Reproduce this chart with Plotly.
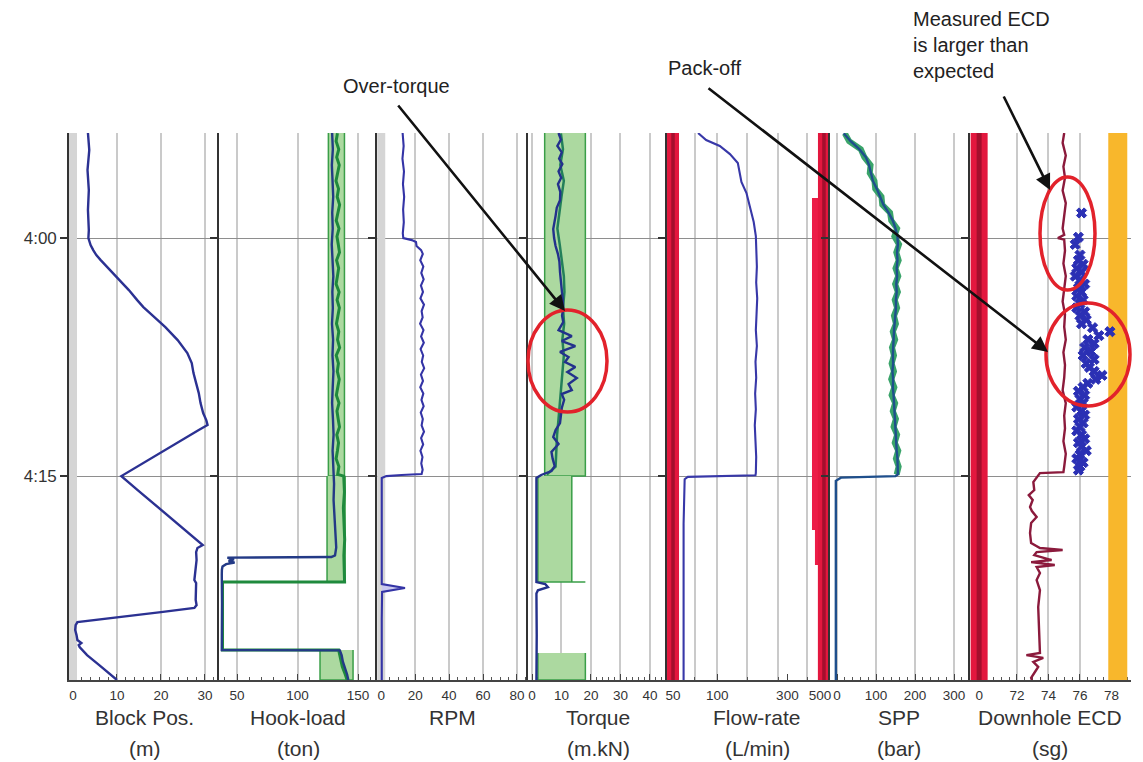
import plotly.graph_objects as go
from plotly.subplots import make_subplots

# ---------------- data (time = minutes after 4:00) ----------------
t_top, t_bottom = -6.62, 27.85
y_tickvals = [0, 15]
y_ticktext = ["4:00", "4:15"]

grid_t = [-6.6, -6.1, -5.6, -5.1, -4.6, -4.1, -3.6, -3.1, -2.6, -2.1, -1.6, -1.1, -0.6, -0.1,
          0.4, 0.9, 1.4, 1.9, 2.4, 2.9, 3.4, 3.9, 4.4, 4.9, 5.4, 5.9, 6.4, 6.9, 7.4, 7.9,
          8.4, 8.9, 9.4, 9.9, 10.4, 10.9, 11.4, 11.9, 12.4, 12.9, 13.4, 13.9, 14.4, 14.9]

# Block position (m)
block_t = [-6.62, -5.55, -4.28, -3.02, -1.76, -0.50, 0.00, 0.44, 0.76, 1.07, 1.39, 2.02, 2.65, 3.28,
           3.91, 4.35, 4.98, 5.61, 6.43, 7.25, 7.88, 8.51, 9.14, 9.77, 10.40, 11.03, 11.47, 11.78,
           12.10, 12.73, 13.36, 13.99, 14.62, 15.00, 15.88, 17.14, 18.40, 19.34, 19.53, 19.79,
           20.29, 20.92, 21.55, 21.74, 22.18, 22.81, 23.13, 23.31, 23.57, 23.82, 24.07, 24.20,
           24.39, 24.70, 25.02, 25.33, 25.52, 25.65, 25.77, 26.28, 26.90, 27.66, 27.85]
block_m = [3.4, 3.7, 3.3, 3.6, 3.4, 3.6, 3.5, 4.0, 4.6, 5.3, 6.3, 8.5, 10.7, 12.7, 14.6, 16.0, 18.5,
           21.0, 23.8, 26.0, 27.0, 27.4, 28.0, 28.6, 29.0, 29.6, 30.3, 30.6, 28.6, 24.8, 21.0,
           17.1, 13.3, 11.0, 14.7, 20.1, 25.5, 29.5, 28.3, 28.0, 28.1, 27.8, 27.6, 28.0, 28.0,
           27.9, 28.1, 27.6, 20.0, 12.0, 4.5, 1.0, 0.6, 0.5, 0.8, 1.0, 1.9, 1.3, 1.5, 3.2, 5.9,
           9.2, 10.0]
zero_ref = [0, 0]

# Hook-load (ton)
hook_blue_t = [-6.62, -5.6, -4.6, -3.6, -2.6, -1.6, -0.6, 0.4, 1.4, 2.4, 3.4, 4.4, 5.4, 6.4, 7.4,
               8.4, 9.4, 10.4, 11.4, 12.4, 13.4, 14.4, 15.0, 15.5, 16.5, 17.5, 18.5, 19.5, 20.0,
               20.10, 20.14, 20.25, 20.35, 20.45, 20.55, 20.70, 20.90, 21.20, 23.0, 25.0, 25.96,
               25.98, 26.3, 26.7, 27.1, 27.5, 27.85]
hook_blue = [128.6, 129.2, 128.4, 128.9, 129.5, 128.7, 129.1, 128.3, 129.0, 129.6, 128.8, 129.2,
             128.5, 129.4, 128.9, 129.7, 129.1, 128.6, 129.3, 129.8, 129.0, 129.5, 129.5, 130.2,
             129.8, 130.5, 131.5, 132.0, 131.0, 128.0, 42.0, 47.5, 43.0, 48.0, 41.0, 38.0, 37.5,
             37.4, 37.6, 37.4, 37.4, 135.0, 136.5, 137.5, 139.5, 141.0, 142.0]
hook_green_noise = [133.0, 131.9, 134.1, 132.4, 134.5, 133.1, 131.8, 133.9, 132.8, 134.8, 133.4,
                    132.0, 134.3, 132.6, 133.7, 134.7, 132.3, 134.0, 133.0, 131.9, 134.4, 132.7,
                    134.6, 133.3, 132.2, 134.1, 133.1, 134.8, 132.0, 133.8, 132.9, 134.5, 133.4,
                    132.1, 134.3, 132.6, 133.6, 134.7, 132.5, 133.9, 133.0, 131.9, 134.2, 133.2]
hook_green_tail_t = [15.0, 16.0, 17.0, 18.0, 19.0, 20.0, 21.0, 21.68, 21.68, 25.96, 25.96, 26.5,
                     27.0, 27.4, 27.85]
hook_green_tail = [138.2, 138.8, 137.9, 138.6, 139.0, 138.3, 138.7, 138.9, 38.0, 38.0, 134.0,
                   135.5, 137.0, 139.0, 141.0]
hook_env1_t, hook_env1_lo, hook_env1_hi = [-6.62, 15.0], [125.5, 125.5], [138.8, 138.8]
hook_env2_t, hook_env2_lo, hook_env2_hi = [15.0, 21.68, 21.68], [124.4, 124.4, 42.0], [139.3, 139.3, 139.3]
hook_env3_t, hook_env3_lo, hook_env3_hi = [25.96, 27.85], [118.6, 118.6], [145.9, 145.9]

# RPM
rpm_t = [-6.62, -5.8, -5.0, -4.2, -3.4, -2.6, -1.8, -1.0, -0.3, 0.0, 0.13, 0.25, 0.5, 0.76, 1.0,
         1.4, 1.8, 2.2, 2.6, 3.0, 3.4, 3.8, 4.2, 4.6, 5.0, 5.4, 5.8, 6.2, 6.6, 7.0, 7.4, 7.8, 8.2,
         8.6, 9.0, 9.4, 9.8, 10.2, 10.6, 11.0, 11.4, 11.8, 12.2, 12.6, 13.0, 13.4, 13.8, 14.2,
         14.6, 14.87, 14.93, 15.0, 15.12, 18.0, 21.8, 22.05, 22.3, 24.0, 27.85]
rpm_v = [12.6, 13.2, 12.5, 13.4, 12.8, 13.5, 12.9, 13.3, 12.7, 13.0, 18.0, 20.5, 20.8, 23.5, 24.5,
         23.0, 24.8, 23.6, 25.0, 23.4, 24.6, 23.1, 25.2, 23.8, 24.4, 22.9, 24.9, 23.5, 25.1, 23.2,
         24.7, 23.9, 25.3, 23.4, 24.6, 23.0, 24.8, 23.7, 25.0, 23.3, 24.5, 23.8, 25.2, 23.5, 24.7,
         23.1, 24.3, 23.6, 24.4, 23.8, 12.0, 3.0, 0.3, 0.4, 0.3, 14.0, 0.5, 0.3, 0.3]
rpm_spike_t = [21.8, 22.05, 22.3]
rpm_spike_v = [0.3, 14.0, 0.5]

# Torque (m.kN)
tq_t = [-6.62, -6.2, -5.8, -5.4, -5.0, -4.66, -4.2, -3.8, -3.4, -2.9, -2.39, -1.9, -1.4, -0.9,
        -0.57, 0.0, 0.5, 1.01, 1.5, 2.14, 2.7, 3.28, 3.8, 4.41, 4.9, 5.29, 5.80, 6.18, 6.49, 6.81,
        7.18, 7.50, 7.81, 8.13, 8.44, 8.82, 9.20, 9.58, 9.83, 10.2, 10.71, 11.2, 11.66, 12.1,
        12.54, 12.98, 13.48, 13.9, 14.37, 14.68, 14.93, 15.12, 18.0, 21.68, 21.8, 22.0, 22.2,
        22.4, 25.0, 27.85]
tq_v = [9.0, 9.8, 8.6, 10.1, 9.2, 10.3, 9.0, 9.9, 8.8, 9.6, 9.5, 8.4, 8.0, 7.6, 7.2, 7.5, 8.0,
        8.8, 9.3, 9.5, 9.9, 10.1, 10.4, 10.6, 10.2, 10.6, 9.0, 13.5, 10.1, 14.7, 9.5, 12.4, 11.2,
        14.7, 12.0, 15.2, 12.4, 13.5, 10.1, 10.9, 10.1, 9.8, 9.5, 8.0, 7.2, 9.0, 6.6, 7.0, 7.7,
        6.6, 3.1, 1.5, 1.6, 1.5, 4.5, 5.4, 2.0, 1.5, 1.6, 1.5]
tq_green_t = [-6.6, -5.6, -4.6, -3.6, -2.6, -1.6, -0.6, 0.4, 1.4, 2.4, 3.4, 4.4, 5.4, 6.4, 7.4,
              8.4, 9.4, 10.4, 11.4, 12.4, 13.4, 14.4, 14.9]
tq_green = [9.8, 10.5, 9.6, 10.8, 10.0, 9.2, 8.6, 9.4, 10.2, 10.8, 11.0, 10.5, 10.9, 10.3, 10.8,
            10.4, 10.0, 9.6, 9.0, 8.5, 8.2, 8.0, 5.0]
tq_env1_t, tq_env1_lo, tq_env1_hi = [-6.62, 15.0], [4.3, 4.3], [18.1, 18.1]
tq_env2_t, tq_env2_lo, tq_env2_hi = [15.0, 21.68, 21.68], [2.0, 2.0, 2.0], [13.5, 13.5, 18.1]
tq_env3_t, tq_env3_lo, tq_env3_hi = [26.15, 27.85], [2.0, 2.0], [18.1, 18.1]

# Flow-rate (L/min)
flow_t = [-6.62, -6.18, -5.80, -5.29, -4.73, -4.16, -3.53, -2.84, -1.95, -1.01, -0.13, 0.8, 1.8,
          2.8, 3.8, 4.8, 5.8, 6.8, 7.8, 8.8, 9.8, 10.8, 11.8, 12.8, 13.8, 14.8, 14.95, 15.05,
          15.2, 18.0, 27.85]
flow_v = [74, 84, 104, 122, 138, 142, 146, 158, 167, 177, 183, 185, 186, 184, 187, 185, 183, 186,
          182, 184, 181, 183, 180, 182, 184, 183, 182, 63, 60, 59, 59]
flow_limits = [50, 532]
pack_t = [-2.52, 27.85, 27.85, 20.60, 20.60, 18.40, 18.40, -2.52]
pack_q = [532, 532, 484, 484, 462, 462, 441, 441]

# SPP (bar)
spp_blue = [17, 35, 57, 74, 82, 88, 92, 102, 110, 119, 132, 143, 150, 155, 156, 154, 155, 153,
            154, 152, 153, 151, 151, 149, 148, 146, 145, 144, 143, 144, 142, 144, 143, 145, 146,
            147, 148, 149, 151, 152, 153, 155, 155, 156]
spp_tail_t = [15.0, 15.1, 15.3, 27.85]
spp_tail = [150, 10, -3, -3]
spp_green = [20, 31, 61, 70, 86, 84, 96, 98, 114, 116, 136, 139, 154, 147, 159, 152, 158, 150,
             157, 149, 156, 148, 154, 146, 151, 143, 149, 141, 146, 140, 146, 139, 147, 140, 149,
             143, 151, 145, 154, 148, 157, 151, 158, 153]

# Downhole ECD (sg)
ecd_t = [-6.62, -6.0, -5.2, -4.5, -3.8, -3.0, -2.2, -1.4, -0.6, -0.2, 0.0, 0.1, 0.8, 1.6, 2.4, 3.2,
         4.0, 4.8, 5.6, 6.4, 7.2, 8.0, 8.8, 9.6, 10.4, 11.2, 12.0, 12.8, 13.6, 14.4, 14.75, 14.81,
         15.37, 15.88, 16.2, 16.5, 16.95, 17.2, 17.58, 17.96, 18.59, 19.22, 19.53, 19.66, 19.79,
         19.98, 20.29, 20.42, 20.60, 20.73, 21.11, 21.55, 22.18, 23.25, 24.3, 25.33, 26.15, 26.28,
         26.46, 26.71, 27.03, 27.41, 27.72, 27.85]
ecd_sg = [75.0, 74.9, 75.1, 74.95, 75.05, 74.9, 75.1, 75.0, 74.9, 75.0, 74.6, 75.0, 75.05, 74.95,
          75.1, 75.0, 74.9, 75.05, 75.0, 75.1, 74.95, 75.05, 75.0, 74.9, 75.1, 75.0, 75.05, 74.95,
          75.1, 75.0, 74.95, 73.46, 73.04, 73.1, 72.75, 73.0, 72.83, 72.95, 73.25, 72.9, 72.83,
          72.9, 73.46, 74.9, 73.25, 73.1, 74.2, 72.9, 74.4, 73.25, 73.46, 73.25, 73.46, 73.35,
          73.4, 73.46, 73.46, 72.6, 73.67, 73.04, 73.35, 73.1, 72.9, 72.95]
meas_t = [-1.58, -0.05, 0.40, 1.07, 1.40, 1.65, 1.90, 2.15, 2.40, 2.65, 2.90, 3.15, 3.40, 3.65,
          3.90, 4.15, 4.40, 4.65, 4.90, 5.15, 5.40, 5.65, 5.90, 6.15, 6.40, 6.65, 6.90, 7.15, 7.40,
          7.65, 7.90, 8.15, 8.40, 8.65, 8.90, 9.15, 9.40, 9.65, 9.90, 10.15, 10.40, 10.65, 10.90,
          11.15, 11.40, 11.65, 11.90, 12.15, 12.40, 12.65, 12.90, 13.15, 13.40, 13.65, 13.90,
          14.15, 14.40, 14.62]
meas_sg = [76.1, 75.9, 75.7, 76.0, 75.9, 76.2, 75.8, 76.1, 75.7, 76.0, 76.3, 75.9, 76.1, 75.8,
           76.2, 76.0, 75.8, 76.3, 76.0, 76.4, 76.1, 76.8, 77.9, 77.2, 76.5, 76.9, 76.3, 76.7,
           76.2, 76.9, 76.4, 76.6, 76.9, 77.4, 77.0, 76.5, 76.2, 75.9, 76.3, 76.0, 76.2, 75.8,
           76.1, 76.3, 75.9, 76.2, 76.0, 75.8, 76.1, 76.3, 75.9, 76.1, 76.4, 76.0, 75.8, 76.2,
           76.0, 75.9]
ecd_flag = 69.6
ecd_limit = 78.4

# axis labels
titles = ["Block Pos.", "Hook-load", "RPM", "Torque", "Flow-rate", "SPP", "Downhole ECD"]
units = ["(m)", "(ton)", "", "(m.kN)", "(L/min)", "(bar)", "(sg)"]

# ---------------- style ----------------
FONT = "Liberation Sans, Arial, sans-serif"
BLUE = "#2b3192"
GREEN_FILL = "#acd9a0"
GREEN_EDGE = "#3a9e48"
GREEN_DARK = "#1f8a3d"
RED = "#e3173e"
RED_DARK = "#a40f2d"

W, H = 1143, 762
ML, MR, MT, MB = 69, 12, 133, 82
col_px = [150, 158, 151, 139, 163, 140, 161]

fig = make_subplots(rows=1, cols=7, shared_yaxes=True, horizontal_spacing=0,
                    column_widths=col_px)


def line(x, y, col, color, width, **kw):
    fig.add_trace(go.Scatter(x=x, y=y, mode="lines", line=dict(color=color, width=width),
                             hoverinfo="skip", **kw), row=1, col=col)


def band(t, lo, hi, col, fill=GREEN_FILL, edge=GREEN_EDGE):
    fig.add_trace(go.Scatter(x=list(hi) + list(lo)[::-1], y=list(t) + list(t)[::-1],
                             mode="lines", fill="toself", fillcolor=fill,
                             line=dict(color=edge, width=1.5), hoverinfo="skip"), row=1, col=col)


span = [t_top, t_bottom]

# 1 Block position
line(zero_ref, span, 1, "#d5d5d5", 8)
line(block_m, block_t, 1, BLUE, 2.4)

# 2 Hook-load
band(hook_env1_t, hook_env1_lo, hook_env1_hi, 2)
band(hook_env2_t, hook_env2_lo, hook_env2_hi, 2)
band(hook_env3_t, hook_env3_lo, hook_env3_hi, 2)
line(hook_green_noise + hook_green_tail, grid_t + hook_green_tail_t, 2, GREEN_DARK, 3)
line(hook_blue, hook_blue_t, 2, "#233a86", 2.4)

# 3 RPM
line(zero_ref, span, 3, "#d5d5d5", 8)
fig.add_trace(go.Scatter(x=rpm_spike_v, y=rpm_spike_t, mode="lines", fill="toself",
                         fillcolor="#c9c8ee", line=dict(width=0), hoverinfo="skip"), row=1, col=3)
line(rpm_v, rpm_t, 3, "#3434a6", 2.1)

# 4 Torque
band(tq_env1_t, tq_env1_lo, tq_env1_hi, 4)
band(tq_env2_t, tq_env2_lo, tq_env2_hi, 4)
band(tq_env3_t, tq_env3_lo, tq_env3_hi, 4)
line(tq_green, tq_green_t, 4, "#23805a", 2.5)
line(tq_v, tq_t, 4, "#23318c", 2.4)

# 5 Flow-rate (log axis)
fig.add_trace(go.Scatter(x=pack_q, y=pack_t, mode="lines", fill="toself", fillcolor="#ec1c47",
                         line=dict(width=0), hoverinfo="skip"), row=1, col=5)
for q in flow_limits:
    line([q, q], span, 5, RED, 12)
    line([q, q], span, 5, RED_DARK, 3.5)
line(flow_v, flow_t, 5, "#3838a8", 2.1)

# 6 SPP
line(spp_green, grid_t, 6, "#3aa46a", 6)
line(spp_blue + spp_tail, grid_t + spp_tail_t, 6, "#1f4f8c", 2.4)

# 7 Downhole ECD
line([ecd_flag, ecd_flag], span, 7, RED, 17)
line([ecd_flag, ecd_flag], span, 7, RED_DARK, 5)
line([ecd_limit, ecd_limit], span, 7, "#f8b72c", 19)
line(ecd_sg, ecd_t, 7, "#8b1a3c", 2.4)
fig.add_trace(go.Scatter(x=meas_sg, y=meas_t, mode="markers",
                         marker=dict(symbol="x", size=9, color="#2b30b4",
                                     line=dict(width=1, color="#2b30b4")),
                         hoverinfo="skip"), row=1, col=7)

# ---------------- axes ----------------
xcfg = [
    dict(range=[-0.91, 33.2], tickvals=[0, 10, 20, 30], minor=dict(dtick=2)),
    dict(range=[35.1, 165.7], tickvals=[50, 100, 150], minor=dict(dtick=10)),
    dict(range=[-2.5, 86.5], tickvals=[0, 20, 40, 60, 80], minor=dict(dtick=5)),
    dict(range=[-1.36, 45.8], tickvals=[0, 10, 20, 30, 40], minor=dict(dtick=2)),
    dict(type="log", range=[1.658, 2.767], tickvals=[50, 100, 300, 500], showgrid=False,
         minor=dict(tickvals=[70, 100, 160, 260, 410], showgrid=True,
                    gridcolor="#cacaca", gridwidth=1.5)),
    dict(range=[-18, 341], tickvals=[0, 100, 200, 300], minor=dict(dtick=20)),
    dict(range=[69.02, 79.24], tickvals=[ecd_flag, 72, 74, 76, 78],
         ticktext=["0", "72", "74", "76", "78"], minor=dict(dtick=0.5)),
]
for i, cfg in enumerate(xcfg):
    minor = dict(ticks="inside", ticklen=3, tickcolor="#555", tickwidth=1)
    minor.update(cfg.pop("minor"))
    base = dict(showline=True, linecolor="#444", linewidth=1.5, ticks="inside", ticklen=6,
                tickwidth=1.3, tickcolor="#444", showgrid=True, gridcolor="#cacaca",
                gridwidth=1.5, zeroline=False, layer="below traces", ticklabelstandoff=2,
                tickfont=dict(family=FONT, size=13.5, color="#333"), minor=minor)
    base.update(cfg)
    fig.update_xaxes(row=1, col=i + 1, **base)

fig.update_yaxes(range=[t_bottom, t_top], tickvals=y_tickvals, ticktext=y_ticktext,
                 showgrid=True, gridcolor="#8e8e8e", gridwidth=1.2, zeroline=False,
                 showline=True, linecolor="#333", linewidth=1.6, ticks="outside", ticklen=7,
                 tickwidth=1.6, tickcolor="#333", layer="below traces",
                 tickfont=dict(family=FONT, size=17, color="#333"))

# ---------------- annotations ----------------
PW, PH = W - ML - MR, H - MT - MB


def px(x):
    return (x - ML) / PW


def py(y):
    return (H - MB - y) / PH


TXT = dict(xref="paper", yref="paper", showarrow=False, xanchor="center", yanchor="middle")
ann = []
title_cx = [144, 298, 452, 598, 757, 899, 1050]
for cx, ttl, un in zip(title_cx, titles, units):
    ann.append(dict(x=px(cx), y=py(717), text=ttl,
                    font=dict(family=FONT, size=21, color="#333"), **TXT))
    if un:
        ann.append(dict(x=px(cx), y=py(748), text=un,
                        font=dict(family=FONT, size=21, color="#333"), **TXT))

ann.append(dict(x=px(396), y=py(86), text="Over-torque",
                font=dict(family=FONT, size=20, color="#222"), **TXT))
ann.append(dict(x=px(704), y=py(68), text="Pack-off",
                font=dict(family=FONT, size=20, color="#222"), **TXT))
ann.append(dict(x=px(911), y=py(6), xref="paper", yref="paper",
                text="Measured ECD<br>is larger than<br>expected", align="left",
                showarrow=False, xanchor="left", yanchor="top",
                font=dict(family=FONT, size=20, color="#222")))

arrows = [((565, 311), (397, 104)), ((1048, 352), (707, 87)), ((1050, 190), (1003, 95))]
for (hx, hy), (tx, ty) in arrows:
    ann.append(dict(x=px(hx), y=py(hy), xref="paper", yref="paper", text="",
                    showarrow=True, ax=tx - hx, ay=ty - hy, arrowhead=2, arrowsize=1.2,
                    arrowwidth=2.6, arrowcolor="#111", standoff=0, startstandoff=0))

shapes = []
for (x0, y0, x1, y1) in [(528, 310, 607, 412), (1040, 177, 1095, 290), (1046, 303, 1130, 406)]:
    shapes.append(dict(type="circle", xref="paper", yref="paper", x0=px(x0), x1=px(x1),
                       y0=py(y1), y1=py(y0), line=dict(color="#e2222b", width=3.5),
                       layer="above"))

fig.update_layout(width=W, height=H, autosize=False,
                  margin=dict(l=ML, r=MR, t=MT, b=MB, pad=0),
                  paper_bgcolor="white", plot_bgcolor="white", showlegend=False,
                  annotations=ann, shapes=shapes, font=dict(family=FONT))

fig.write_html("out.html", config={"displayModeBar": False},
               post_script="document.body.style.margin='0';document.body.style.overflow='hidden';")
